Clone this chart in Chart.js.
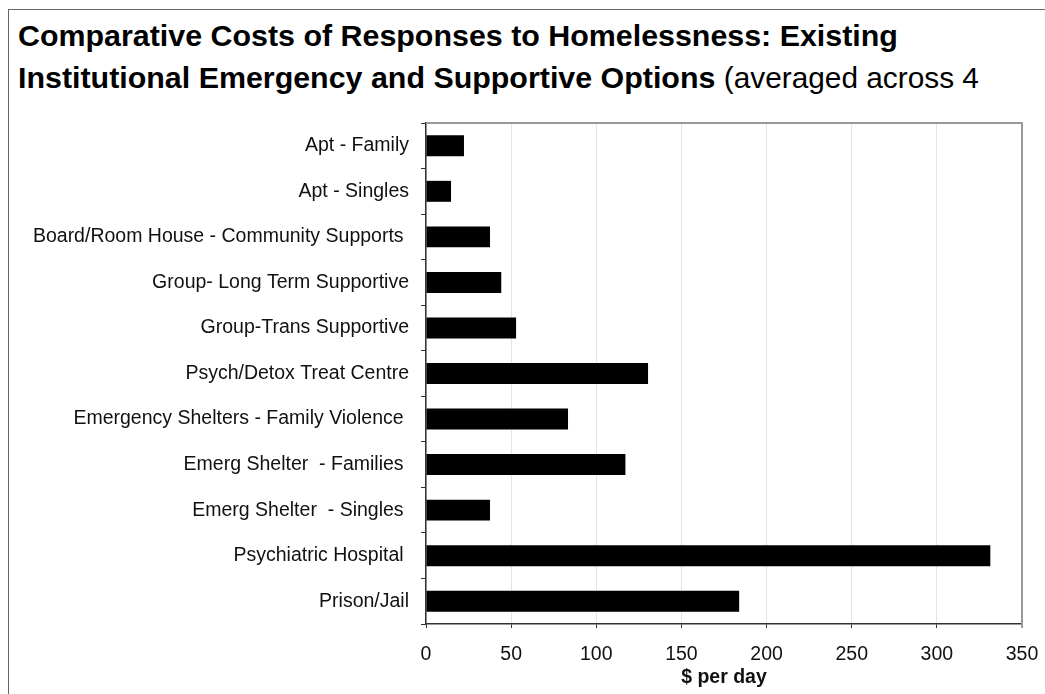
<!DOCTYPE html>
<html>
<head>
<meta charset="utf-8">
<title>Comparative Costs of Responses to Homelessness</title>
<script src="https://cdn.jsdelivr.net/npm/chart.js@4.4.1/dist/chart.umd.min.js"></script>
<style>
  html, body { margin: 0; padding: 0; background: #fff; }
  body { width: 1045px; height: 694px; position: relative; overflow: hidden;
         font-family: "Liberation Sans", Arial, Helvetica, sans-serif; }
  #frame { position: absolute; left: 8px; top: 9px; width: 1060px; height: 700px;
           border: 1.5px solid #666; box-sizing: border-box; }
  .title { position: absolute; left: 18px; font-size: 30.4px; line-height: 42px;
           font-weight: bold; color: #000; white-space: pre; }
  .title span { font-weight: normal; font-size: 29.8px; }
  #chart { position: absolute; left: 0; top: 0; }
</style>
</head>
<body>
<div id="frame"></div>
<div class="title" style="top:14px">Comparative Costs of Responses to Homelessness: Existing</div>
<div class="title" style="top:56px">Institutional Emergency and Supportive Options <span>(averaged across 4</span></div>
<canvas id="chart" width="1045" height="694"></canvas>
<script>
// categorías (de arriba hacia abajo) y costo en $ por día
const categories = [
  'Apt - Family',
  'Apt - Singles',
  'Board/Room House - Community Supports ',
  'Group- Long Term Supportive',
  'Group-Trans Supportive',
  'Psych/Detox Treat Centre',
  'Emergency Shelters - Family Violence ',
  'Emerg Shelter  - Families ',
  'Emerg Shelter  - Singles ',
  'Psychiatric Hospital ',
  'Prison/Jail'
];
const costPerDay = [22.3, 14.7, 37.6, 44.2, 52.9, 130.4, 83.4, 117.1, 37.6, 331.4, 183.9];

const xMin = 0;
const xMax = 350;
const xStep = 50;
const xTitle = '$ per day';

// borde gris arriba y a la derecha del área de trazado
const plotFrame = {
  id: 'plotFrame',
  beforeDatasetsDraw(chart) {
    const { ctx, chartArea: a } = chart;
    ctx.save();
    ctx.strokeStyle = '#999';
    ctx.lineWidth = 2;
    ctx.beginPath();
    ctx.moveTo(a.left, a.top);
    ctx.lineTo(a.right, a.top);
    ctx.lineTo(a.right, a.bottom + 4);
    ctx.stroke();
    ctx.restore();
  }
};

const tickFont = { family: '"Liberation Sans", Arial, sans-serif', size: 19.5 };

const ctx = document.getElementById('chart').getContext('2d');
const chart = new Chart(ctx, {
  type: 'bar',
  data: {
    labels: categories,
    datasets: [{
      label: xTitle,
      data: costPerDay,
      backgroundColor: '#000',
      borderWidth: 0,
      categoryPercentage: 1,
      barPercentage: 0.46
    }]
  },
  options: {
    indexAxis: 'y',
    responsive: false,
    animation: false,
    devicePixelRatio: 1,
    layout: { padding: { top: 123, right: 23, left: 0, bottom: 0 } },
    plugins: {
      legend: { display: false },
      tooltip: { enabled: false }
    },
    scales: {
      x: {
        min: xMin,
        max: xMax,
        ticks: { stepSize: xStep, color: '#111', font: tickFont, padding: 15, maxRotation: 0 },
        grid: { color: '#e4e4e4', lineWidth: 1, tickColor: '#333', tickLength: 4 },
        border: { color: '#333', width: 1.5 },
        title: {
          display: true,
          text: xTitle,
          color: '#111',
          font: { family: '"Liberation Sans", Arial, sans-serif', size: 19.5, weight: 'bold' },
          padding: { top: 0, bottom: 5 }
        },
        afterFit: (scale) => {
          scale.height = 70;
          scale.paddingLeft = 0;
          scale.paddingRight = 0;
        }
      },
      y: {
        ticks: { color: '#111', font: tickFont, padding: 12, autoSkip: false },
        grid: { drawOnChartArea: false, offset: true, tickColor: '#333', tickLength: 5 },
        border: { color: '#333', width: 1.5 },
        afterFit: (scale) => { scale.width = 426; }
      }
    }
  },
  plugins: [plotFrame]
});
</script>
</body>
</html>
